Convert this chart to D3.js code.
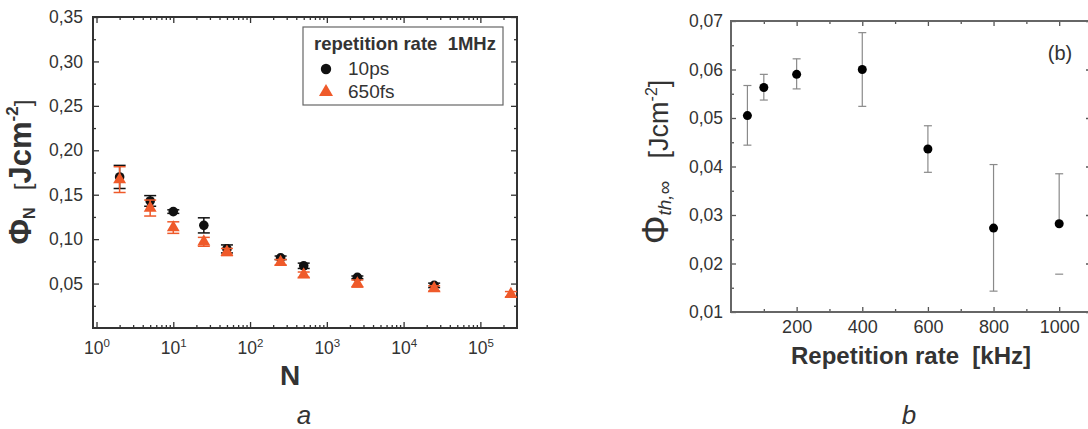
<!DOCTYPE html>
<html>
<head>
<meta charset="utf-8">
<script src="https://cdn.jsdelivr.net/npm/d3@7"></script>
<style>
  body { margin: 0; background: #fff; }
  svg { display: block; }
  text { font-family: "Liberation Sans", Arial, sans-serif; fill: #333; }
</style>
</head>
<body>
<svg id="fig" width="1088" height="429"></svg>
<script>
// panel a: threshold fluence vs number of pulses
const pulses10ps = [2, 5, 10, 25, 50, 250, 500, 2500, 25000];
const fluence10ps = [0.170, 0.143, 0.131, 0.1155, 0.089, 0.079, 0.070, 0.057, 0.048];
const err10ps = [0.013, 0.006, 0.002, 0.0085, 0.0045, 0.002, 0.003, 0.0015, 0.0025];
const pulses650fs = [2, 5, 10, 25, 50, 250, 500, 2500, 25000, 250000];
const fluence650fs = [0.167, 0.135, 0.113, 0.097, 0.0855, 0.074, 0.060, 0.050, 0.0445, 0.038];
const err650fs = [0.0145, 0.009, 0.0065, 0.005, 0.004, 0.003, 0.003, 0.004, 0.003, 0.003];
const yTicksA = [0.05, 0.10, 0.15, 0.20, 0.25, 0.30, 0.35];
const xDecadesA = [1, 10, 100, 1000, 10000, 100000];
const legendTitle = 'repetition rate  1MHz';
const seriesNames = ['10ps', '650fs'];

// panel b: fluence for infinite pulses vs repetition rate
const repRate = [50, 100, 200, 400, 600, 800, 1000];
const fluenceInf = [0.0505, 0.0563, 0.0590, 0.0600, 0.0436, 0.0273, 0.0282];
const errLowB = [0.0444, 0.0537, 0.0560, 0.0524, 0.0388, 0.0143, 0.0178];
const errHighB = [0.0567, 0.0590, 0.0622, 0.0676, 0.0484, 0.0404, 0.0385];
const lowerStemB = [true, true, true, true, true, true, false];
const yTicksB = [0.01, 0.02, 0.03, 0.04, 0.05, 0.06, 0.07];
const xTicksB = [200, 400, 600, 800, 1000];

const orange = '#ef5a2a';
const comma = d3.formatLocale({decimal: ',', thousands: '.', grouping: [3], currency: ['', '']}).format('.2f');

const svg = d3.select('#fig');

// ---------- panel a ----------
const xA = d3.scaleLog().domain([0.9, 3e5]).range([93, 517]);
const yA = d3.scaleLinear().domain([0, 0.35]).range([328, 17]);
const minorXA = [];
xDecadesA.forEach(d => { for (let k = 2; k <= 9; k++) if (d * k < 3e5) minorXA.push(d * k); });
const minorYA = d3.range(0.025, 0.35, 0.05);

const gA = svg.append('g');
const clean = g => g.select('.domain').remove();

gA.append('g').attr('transform', 'translate(0,328)')
  .call(d3.axisBottom(xA).tickValues(xDecadesA).tickSize(-6).tickPadding(14))
  .call(clean)
  .call(g => g.selectAll('text').each(function(d) {
    const t = d3.select(this).text(null).attr('font-size', 17.5).attr('fill', '#444');
    t.append('tspan').text('10');
    t.append('tspan').attr('dy', -7).attr('font-size', 11.5).text(Math.round(Math.log10(d)));
  }));
gA.append('g').attr('transform', 'translate(0,328)')
  .call(d3.axisBottom(xA).tickValues(minorXA).tickSize(-3).tickFormat('')).call(clean);
gA.append('g').attr('transform', 'translate(0,17)')
  .call(d3.axisTop(xA).tickValues(xDecadesA).tickSize(-6).tickFormat('')).call(clean);
gA.append('g').attr('transform', 'translate(0,17)')
  .call(d3.axisTop(xA).tickValues(minorXA).tickSize(-3).tickFormat('')).call(clean);

gA.append('g').attr('transform', 'translate(93,0)')
  .call(d3.axisLeft(yA).tickValues(yTicksA).tickSize(-6).tickPadding(10).tickFormat(comma))
  .call(clean)
  .call(g => g.selectAll('text').attr('font-size', 17.5).attr('fill', '#444'));
gA.append('g').attr('transform', 'translate(93,0)')
  .call(d3.axisLeft(yA).tickValues(minorYA).tickSize(-3).tickFormat('')).call(clean);
gA.append('g').attr('transform', 'translate(517,0)')
  .call(d3.axisRight(yA).tickValues(yTicksA).tickSize(-6).tickFormat('')).call(clean);
gA.append('g').attr('transform', 'translate(517,0)')
  .call(d3.axisRight(yA).tickValues(minorYA).tickSize(-3).tickFormat('')).call(clean);
gA.selectAll('.tick line').attr('stroke', '#333').attr('stroke-width', 1.3);

gA.append('rect').attr('x', 93).attr('y', 17).attr('width', 424).attr('height', 311)
  .attr('fill', 'none').attr('stroke', '#333').attr('stroke-width', 2);

function errBars(g, xs, ys, es, xScale, yScale, color, cap) {
  const data = xs.map((x, i) => ({x, y: ys[i], e: es[i]}));
  const eb = g.append('g').attr('stroke', color).attr('stroke-width', 1.5);
  eb.selectAll('line.stem').data(data).join('line').attr('class', 'stem')
    .attr('x1', d => xScale(d.x)).attr('x2', d => xScale(d.x))
    .attr('y1', d => yScale(d.y - d.e)).attr('y2', d => yScale(d.y + d.e));
  eb.selectAll('line.lo').data(data).join('line').attr('class', 'lo')
    .attr('x1', d => xScale(d.x) - cap).attr('x2', d => xScale(d.x) + cap)
    .attr('y1', d => yScale(d.y - d.e)).attr('y2', d => yScale(d.y - d.e));
  eb.selectAll('line.hi').data(data).join('line').attr('class', 'hi')
    .attr('x1', d => xScale(d.x) - cap).attr('x2', d => xScale(d.x) + cap)
    .attr('y1', d => yScale(d.y + d.e)).attr('y2', d => yScale(d.y + d.e));
}

errBars(gA, pulses10ps, fluence10ps, err10ps, xA, yA, '#111', 6);
gA.append('g').selectAll('circle').data(pulses10ps).join('circle')
  .attr('cx', d => xA(d)).attr('cy', (d, i) => yA(fluence10ps[i])).attr('r', 4.8).attr('fill', '#111');

const tri = d3.symbol(d3.symbolTriangle).size(72);
errBars(gA, pulses650fs, fluence650fs, err650fs, xA, yA, orange, 6);
gA.append('g').selectAll('path').data(pulses650fs).join('path')
  .attr('d', tri)
  .attr('transform', (d, i) => `translate(${xA(d)},${yA(fluence650fs[i])})`)
  .attr('fill', orange);

// legend
const leg = gA.append('g');
leg.append('rect').attr('x', 303).attr('y', 27).attr('width', 200).attr('height', 78)
  .attr('fill', '#fff').attr('stroke', '#666').attr('stroke-width', 1.2);
leg.append('text').attr('x', 314).attr('y', 50).attr('font-size', 18.5).attr('font-weight', 'bold')
  .attr('fill', '#222').style('white-space', 'pre').text(legendTitle);
leg.append('circle').attr('cx', 326).attr('cy', 69).attr('r', 5.2).attr('fill', '#111');
leg.append('path').attr('d', d3.symbol(d3.symbolTriangle).size(85)).attr('transform', 'translate(326,92)').attr('fill', orange);
leg.selectAll('text.item').data(seriesNames).join('text').attr('class', 'item')
  .attr('x', 348).attr('y', (d, i) => 75 + i * 23).attr('font-size', 19).attr('fill', '#333').text(d => d);

// axis titles a
const yLabA = gA.append('text').attr('transform', 'translate(31,172) rotate(-90)')
  .attr('text-anchor', 'middle').attr('font-weight', 'bold').attr('font-size', 31).attr('fill', '#222')
  .style('white-space', 'pre');
yLabA.append('tspan').text('Φ');
yLabA.append('tspan').attr('font-size', 16).attr('dy', 4).text('N');
yLabA.append('tspan').attr('dy', -4).text('  ');
yLabA.append('tspan').attr('font-weight', 'normal').attr('font-size', 24).text('[');
yLabA.append('tspan').text('Jcm');
yLabA.append('tspan').attr('font-size', 17).attr('dy', -13).text('-2');
yLabA.append('tspan').attr('font-weight', 'normal').attr('font-size', 24).attr('dy', 13).text(']');

gA.append('text').attr('x', 290).attr('y', 385).attr('text-anchor', 'middle')
  .attr('font-weight', 'bold').attr('font-size', 28).attr('fill', '#222').text('N');
gA.append('text').attr('x', 304).attr('y', 424).attr('text-anchor', 'middle')
  .attr('font-style', 'italic').attr('font-size', 26).attr('fill', '#222').text('a');

// ---------- panel b ----------
const xB = d3.scaleLinear().domain([0, 1100]).range([731, 1092]);
const yB = d3.scaleLinear().domain([0.01, 0.07]).range([312, 21]);
const minorXB = d3.range(100, 1100, 200);
const minorYB = d3.range(0.015, 0.07, 0.01);
const gB = svg.append('g');

gB.append('g').attr('transform', 'translate(0,312)')
  .call(d3.axisBottom(xB).tickValues(xTicksB).tickSize(-5).tickPadding(8).tickFormat(d3.format('d')))
  .call(clean)
  .call(g => g.selectAll('text').attr('font-size', 18).attr('fill', '#333'));
gB.append('g').attr('transform', 'translate(0,312)')
  .call(d3.axisBottom(xB).tickValues(minorXB).tickSize(-3).tickFormat('')).call(clean);
gB.append('g').attr('transform', 'translate(0,21)')
  .call(d3.axisTop(xB).tickValues(xTicksB).tickSize(-5).tickFormat('')).call(clean);
gB.append('g').attr('transform', 'translate(0,21)')
  .call(d3.axisTop(xB).tickValues(minorXB).tickSize(-3).tickFormat('')).call(clean);
gB.append('g').attr('transform', 'translate(731,0)')
  .call(d3.axisLeft(yB).tickValues(yTicksB).tickSize(-5).tickPadding(8).tickFormat(comma))
  .call(clean)
  .call(g => g.selectAll('text').attr('font-size', 17.5).attr('fill', '#333'));
gB.append('g').attr('transform', 'translate(731,0)')
  .call(d3.axisLeft(yB).tickValues(minorYB).tickSize(-3).tickFormat('')).call(clean);
gB.append('g').attr('transform', 'translate(1091,0)')
  .call(d3.axisRight(yB).tickValues(yTicksB).tickSize(-5).tickFormat('')).call(clean);
gB.selectAll('.tick line').attr('stroke', '#555').attr('stroke-width', 1.3);

gB.append('rect').attr('x', 731).attr('y', 21).attr('width', 360).attr('height', 291)
  .attr('fill', 'none').attr('stroke', '#666').attr('stroke-width', 2);

const ptsB = repRate.map((x, i) => ({x, y: fluenceInf[i], lo: errLowB[i], hi: errHighB[i], stem: lowerStemB[i]}));
const ebB = gB.append('g').attr('stroke', '#8a8a8a').attr('stroke-width', 1.2);
ebB.selectAll('line.up').data(ptsB).join('line').attr('class', 'up')
  .attr('x1', d => xB(d.x)).attr('x2', d => xB(d.x)).attr('y1', d => yB(d.y)).attr('y2', d => yB(d.hi));
ebB.selectAll('line.dn').data(ptsB.filter(d => d.stem)).join('line').attr('class', 'dn')
  .attr('x1', d => xB(d.x)).attr('x2', d => xB(d.x)).attr('y1', d => yB(d.y)).attr('y2', d => yB(d.lo));
['lo', 'hi'].forEach(k => {
  ebB.selectAll('line.c' + k).data(ptsB).join('line').attr('class', 'c' + k)
    .attr('x1', d => xB(d.x) - 4).attr('x2', d => xB(d.x) + 4)
    .attr('y1', d => yB(d[k])).attr('y2', d => yB(d[k]));
});
gB.append('g').selectAll('circle').data(ptsB).join('circle')
  .attr('cx', d => xB(d.x)).attr('cy', d => yB(d.y)).attr('r', 4.5).attr('fill', '#000');

gB.append('text').attr('x', 1060).attr('y', 60).attr('text-anchor', 'middle')
  .attr('font-size', 20).attr('fill', '#222').text('(b)');

const yLabB = gB.append('text').attr('transform', 'translate(668,162) rotate(-90)')
  .attr('text-anchor', 'middle').attr('font-size', 27).attr('fill', '#222').style('white-space', 'pre');
yLabB.append('tspan').attr('font-size', 36).text('Φ');
yLabB.append('tspan').attr('font-size', 19).attr('font-style', 'italic').attr('dy', 3).text('th,∞');
yLabB.append('tspan').attr('dy', -3).text('   [Jcm');
yLabB.append('tspan').attr('font-size', 16).attr('dy', -11).text('-2');
yLabB.append('tspan').attr('dy', 11).text(']');

gB.append('text').attr('x', 911).attr('y', 364).attr('text-anchor', 'middle')
  .attr('font-weight', 'bold').attr('font-size', 24).attr('fill', '#222').style('white-space', 'pre')
  .text('Repetition rate  [kHz]');
gB.append('text').attr('x', 909).attr('y', 424).attr('text-anchor', 'middle')
  .attr('font-style', 'italic').attr('font-size', 26).attr('fill', '#222').text('b');
</script>
</body>
</html>
